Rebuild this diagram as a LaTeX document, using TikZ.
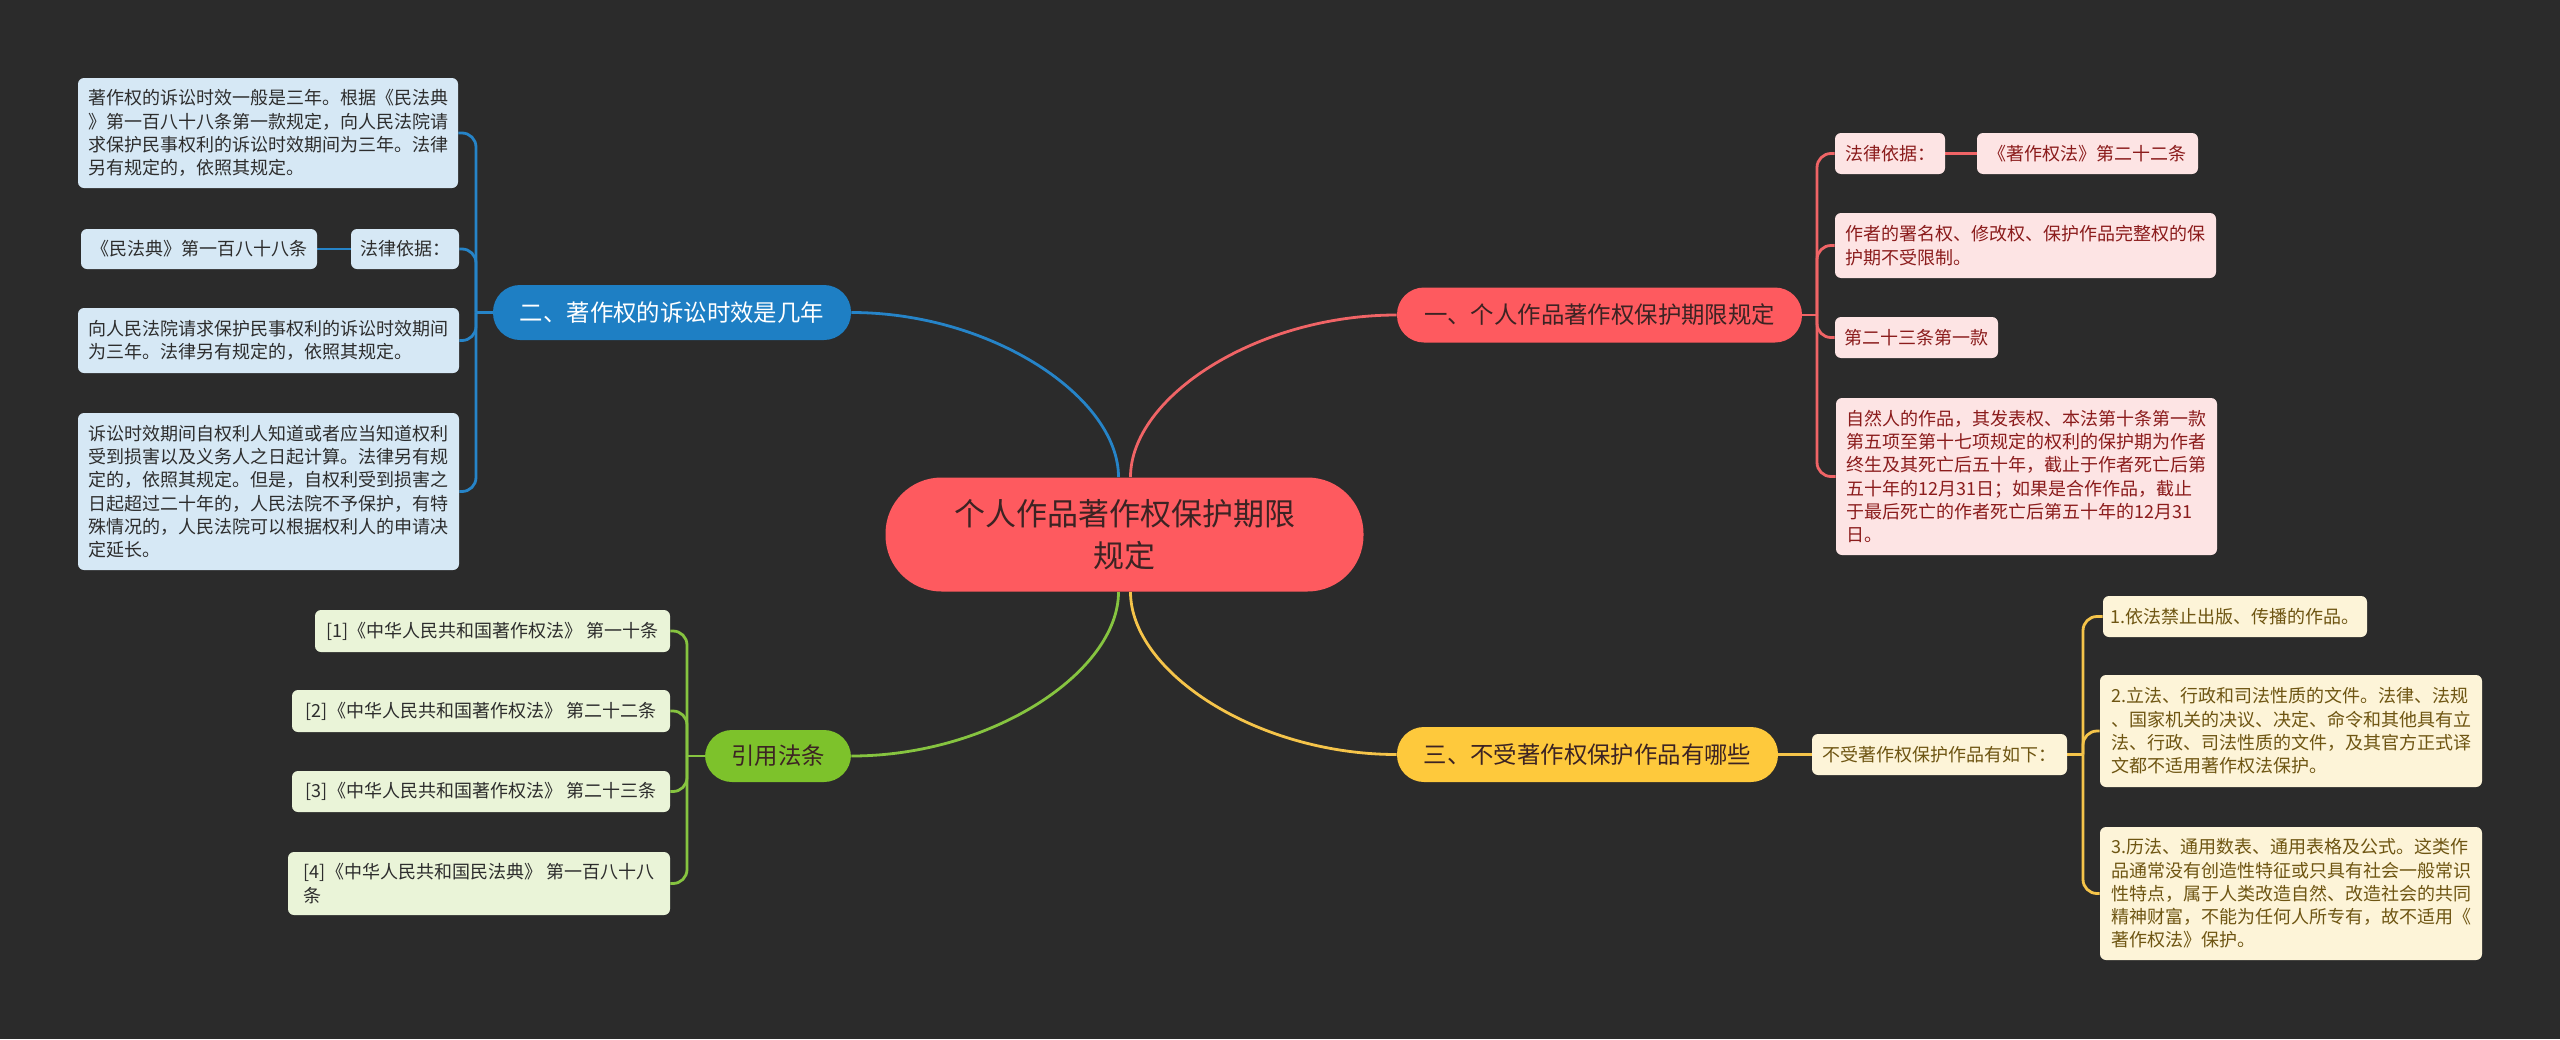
\documentclass[tikz,border=0pt]{standalone}
\usepackage{fontspec}
\setmainfont{Noto Sans CJK SC}
\usetikzlibrary{calc}
\definecolor{bgc}{RGB}{43,43,43}
\definecolor{redm}{RGB}{254,90,95}
\definecolor{redl}{RGB}{240,100,102}
\definecolor{redleaf}{RGB}{253,228,228}
\definecolor{redtxt}{RGB}{139,28,28}
\definecolor{bluem}{RGB}{30,127,196}
\definecolor{bluel}{RGB}{38,132,200}
\definecolor{blueleaf}{RGB}{214,232,245}
\definecolor{yelm}{RGB}{254,201,60}
\definecolor{yell}{RGB}{245,196,74}
\definecolor{yelleaf}{RGB}{253,244,216}
\definecolor{yeltxt}{RGB}{110,85,18}
\definecolor{grnm}{RGB}{125,194,43}
\definecolor{grnl}{RGB}{134,196,64}
\definecolor{grnleaf}{RGB}{234,244,216}
\definecolor{darktxt}{RGB}{45,45,45}
\definecolor{ctrtxt}{RGB}{60,35,35}
\pgfdeclarelayer{bg}
\pgfsetlayers{bg,main}
\tikzset{
  leaf/.style={rounded corners=3pt, inner sep=0pt, align=left, font=\fontsize{9}{11.65}\selectfont},
  bleaf/.style={leaf, fill=blueleaf, text=darktxt},
  rleaf/.style={leaf, fill=redleaf, text=redtxt},
  yleaf/.style={leaf, fill=yelleaf, text=yeltxt},
  gleaf/.style={leaf, fill=grnleaf, text=darktxt},
  branch/.style={rounded corners=13.5pt, inner sep=0pt, minimum height=27.5pt, font=\fontsize{11.7}{14}\selectfont},
  ctrbox/.style={fill=redm, rounded corners=28pt, inner sep=0pt, minimum width=239pt, minimum height=57pt, align=center, text=ctrtxt, font=\fontsize{15.5}{21}\selectfont},
  conn/.style={line width=1.4pt},
  bconn/.style={conn, draw=bluel},
  rconn/.style={conn, draw=redl},
  yconn/.style={conn, draw=yell},
  gconn/.style={conn, draw=grnl},
}
\begin{document}
\begin{tikzpicture}[x=0.5pt,y=-0.5pt]
\begin{pgfonlayer}{bg}
\fill[bgc] (0,0) rectangle (2560,1039);
\end{pgfonlayer}
\useasboundingbox (0,0) rectangle (2560,1039);

% centre
\node[ctrbox] (ctr) at (1124.5,534.5) {个人作品著作权保护期限\\规定};

% branches
\node[branch, fill=bluem, text=white, minimum width=179pt] (b) at (672,312.5) {二、著作权的诉讼时效是几年};
\node[branch, fill=redm, text=ctrtxt, minimum width=202.5pt] (r) at (1599.5,315) {一、个人作品著作权保护期限规定};
\node[branch, fill=yelm, text=ctrtxt, minimum width=190.5pt] (y) at (1587.5,754.5) {三、不受著作权保护作品有哪些};
\node[branch, fill=grnm, text=ctrtxt, minimum width=73pt, minimum height=26pt] (g) at (778,756) {引用法条};

% blue leaves
\node[bleaf, minimum width=190pt, minimum height=55pt] (bA) at (268,133) {著作权的诉讼时效一般是三年。根据《民法典\\》第一百八十八条第一款规定，向人民法院请\\求保护民事权利的诉讼时效期间为三年。法律\\另有规定的，依照其规定。};
\node[bleaf, minimum width=54pt, minimum height=20pt] (bLaw) at (405,249) {法律依据：};
\node[bleaf, minimum width=118pt, minimum height=20pt] (bMin) at (199,249) {《民法典》第一百八十八条};
\node[bleaf, minimum width=190.5pt, minimum height=32.5pt] (bC) at (268.5,340.5) {向人民法院请求保护民事权利的诉讼时效期间\\为三年。法律另有规定的，依照其规定。};
\node[bleaf, minimum width=190.5pt, minimum height=78.5pt] (bD) at (268.5,491.5) {诉讼时效期间自权利人知道或者应当知道权利\\受到损害以及义务人之日起计算。法律另有规\\定的，依照其规定。但是，自权利受到损害之\\日起超过二十年的，人民法院不予保护，有特\\殊情况的，人民法院可以根据权利人的申请决\\定延长。};

% red leaves
\node[rleaf, minimum width=55pt, minimum height=20.5pt] (rLaw) at (1890,153.5) {法律依据：};
\node[rleaf, minimum width=110.5pt, minimum height=20.5pt] (rZhu) at (2087.5,153.5) {《著作权法》第二十二条};
\node[rleaf, minimum width=190.5pt, minimum height=32.5pt] (rB) at (2025.5,245.5) {作者的署名权、修改权、保护作品完整权的保\\护期不受限制。};
\node[rleaf, minimum width=81.5pt, minimum height=20.5pt] (rC) at (1916.5,337.5) {第二十三条第一款};
\node[rleaf, minimum width=190.5pt, minimum height=78.5pt] (rD) at (2026.5,476.5) {自然人的作品，其发表权、本法第十条第一款\\第五项至第十七项规定的权利的保护期为作者\\终生及其死亡后五十年，截止于作者死亡后第\\五十年的12月31日；如果是合作作品，截止\\于最后死亡的作者死亡后第五十年的12月31\\日。};

% yellow leaves
\node[yleaf, minimum width=127.5pt, minimum height=20.5pt] (yHead) at (1939.5,754.5) {不受著作权保护作品有如下：};
\node[yleaf, minimum width=132pt, minimum height=20.5pt] (y1) at (2235,616.5) {1.依法禁止出版、传播的作品。};
\node[yleaf, minimum width=191pt, minimum height=56pt] (y2) at (2291,731) {2.立法、行政和司法性质的文件。法律、法规\\、国家机关的决议、决定、命令和其他具有立\\法、行政、司法性质的文件，及其官方正式译\\文都不适用著作权法保护。};
\node[yleaf, minimum width=191pt, minimum height=66.5pt] (y3) at (2291,893.5) {3.历法、通用数表、通用表格及公式。这类作\\品通常没有创造性特征或只具有社会一般常识\\性特点，属于人类改造自然、改造社会的共同\\精神财富，不能为任何人所专有，故不适用《\\著作权法》保护。};

% green leaves
\node[gleaf, minimum width=177.5pt, minimum height=21pt] (g1) at (492.5,631) {[1]《中华人民共和国著作权法》 第一十条};
\node[gleaf, minimum width=189pt, minimum height=21pt] (g2) at (481,711) {[2]《中华人民共和国著作权法》 第二十二条};
\node[gleaf, minimum width=189pt, minimum height=20.5pt] (g3) at (481,791.5) {[3]《中华人民共和国著作权法》 第二十三条};
\node[gleaf, minimum width=191pt, minimum height=31.5pt] (g4) at (479,883.5) {[4]《中华人民共和国民法典》 第一百八十八\\条};

% spine coordinates
\coordinate (bsp) at (476,312.5);
\coordinate (rsp) at (1817,315);
\coordinate (ysp) at (2083,754.5);
\coordinate (gsp) at (687,756);

\begin{pgfonlayer}{bg}
% centre to branches
\draw[bconn] ([xshift=-3pt]ctr.north) .. controls +(0,-80) and +(140,0) .. (b.east);
\draw[rconn] ([xshift=3pt]ctr.north) .. controls +(0,-80) and +(-140,0) .. (r.west);
\draw[yconn] ([xshift=3pt]ctr.south) .. controls +(0,80) and +(-140,0) .. (y.west);
\draw[gconn] ([xshift=-3pt]ctr.south) .. controls +(0,80) and +(140,0) .. (g.east);

% blue
\draw[bconn] (b.west) -- (bsp);
\draw[bconn, rounded corners=7pt] (bsp) |- (bA.east);
\draw[bconn, rounded corners=7pt] (bsp) |- (bLaw.east);
\draw[bconn, rounded corners=7pt] (bsp) |- (bC.east);
\draw[bconn, rounded corners=7pt] (bsp) |- (bD.east);
\draw[bconn] (bLaw.west) -- (bMin.east);

% red
\draw[rconn] (r.east) -- (rsp);
\draw[rconn, rounded corners=7pt] (rsp) |- (rLaw.west);
\draw[rconn, rounded corners=7pt] (rsp) |- (rB.west);
\draw[rconn, rounded corners=7pt] (rsp) |- (rC.west);
\draw[rconn, rounded corners=7pt] (rsp) |- (rD.west);
\draw[rconn] (rLaw.east) -- (rZhu.west);

% yellow
\draw[yconn] (y.east) -- (yHead.west);
\draw[yconn] (yHead.east) -- (ysp);
\draw[yconn, rounded corners=7pt] (ysp) |- (y1.west);
\draw[yconn, rounded corners=7pt] (ysp) |- (y2.west);
\draw[yconn, rounded corners=7pt] (ysp) |- (y3.west);

% green
\draw[gconn] (g.west) -- (gsp);
\draw[gconn, rounded corners=7pt] (gsp) |- (g1.east);
\draw[gconn, rounded corners=7pt] (gsp) |- (g2.east);
\draw[gconn, rounded corners=7pt] (gsp) |- (g3.east);
\draw[gconn, rounded corners=7pt] (gsp) |- (g4.east);
\end{pgfonlayer}
\end{tikzpicture}
\end{document}
